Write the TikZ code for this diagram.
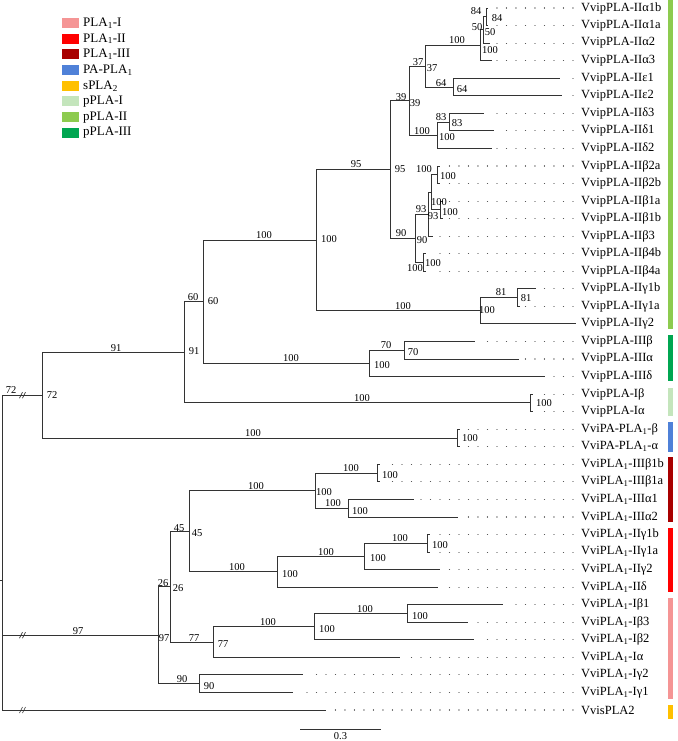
\documentclass[tikz,border=0pt]{standalone}
\usepackage{fontspec}
\setmainfont{Liberation Serif}
\definecolor{cPLAI}{HTML}{F59595}
\definecolor{cPLAII}{HTML}{FF0000}
\definecolor{cPLAIII}{HTML}{A80000}
\definecolor{cPA}{HTML}{4F81D8}
\definecolor{csPLA}{HTML}{FFC000}
\definecolor{cpI}{HTML}{C4E5BC}
\definecolor{cpII}{HTML}{8DCB4F}
\definecolor{cpIII}{HTML}{00A651}
\tikzset{
  br/.style={draw=black!80, line width=0.9pt},
  dotl/.style={draw=black!65, line width=1.1pt, line cap=round, dash pattern=on 0.1pt off 9.4pt},
  lf/.style={anchor=west, inner sep=0pt, font=\fontsize{12.5}{14}\selectfont},
  bs/.style={inner sep=0pt, font=\fontsize{10.5}{12}\selectfont},
  lg/.style={anchor=west, inner sep=0pt, font=\fontsize{13}{15}\selectfont},
  slash/.style={draw=black!80, line width=0.6pt}
}
\newcommand\leafA[4]{\coordinate (t#1) at (#2,#3); \node[lf] (L#1) at (581,#3) {#4};}
\newcommand\leafB[4]{\leafA{#1}{#2}{#3}{#4}\coordinate (e#1) at (573,#3); \coordinate (s#1) at (#2+5,#3); \draw[dotl] (e#1) -- (s#1);}
\newcommand\sub[1]{\textsubscript{#1}}
\begin{document}
\begin{tikzpicture}[x=1pt,y=-1pt]
\useasboundingbox (0,0) rectangle (677,741);
% leaves
\leafB{1}{488}{8}{VvipPLA-IIα1b}
\leafB{2}{488}{25.55}{VvipPLA-IIα1a}
\leafB{3}{490}{43.1}{VvipPLA-IIα2}
\leafB{4}{492}{60.65}{VvipPLA-IIα3}
\leafB{5}{560}{78.2}{VvipPLA-IIε1}
\leafB{6}{562}{95.75}{VvipPLA-IIε2}
\leafB{7}{484}{113.3}{VvipPLA-IIδ3}
\leafB{8}{494}{130.85}{VvipPLA-IIδ1}
\leafB{9}{492}{148.4}{VvipPLA-IIδ2}
\leafB{10}{440}{165.95}{VvipPLA-IIβ2a}
\leafB{11}{440}{183.5}{VvipPLA-IIβ2b}
\leafB{12}{443}{201.05}{VvipPLA-IIβ1a}
\leafB{13}{443}{218.6}{VvipPLA-IIβ1b}
\leafB{14}{433}{236.15}{VvipPLA-IIβ3}
\leafB{15}{426}{253.7}{VvipPLA-IIβ4b}
\leafB{16}{426}{271.25}{VvipPLA-IIβ4a}
\leafB{17}{536}{288.8}{VvipPLA-IIγ1b}
\leafB{18}{520}{306.35}{VvipPLA-IIγ1a}
\leafA{19}{576}{323.9}{VvipPLA-IIγ2}
\leafB{20}{475}{341.45}{VvipPLA-IIIβ}
\leafB{21}{519}{359}{VvipPLA-IIIα}
\leafB{22}{545}{376.55}{VvipPLA-IIIδ}
\leafB{23}{533}{394.1}{VvipPLA-Iβ}
\leafB{24}{533}{411.65}{VvipPLA-Iα}
\leafB{25}{460}{429.2}{VviPA-PLA\sub{1}-β}
\leafB{26}{460}{446.75}{VviPA-PLA\sub{1}-α}
\leafB{27}{380}{464.3}{VviPLA\sub{1}-IIIβ1b}
\leafB{28}{380}{481.85}{VviPLA\sub{1}-IIIβ1a}
\leafB{29}{414}{499.4}{VviPLA\sub{1}-IIIα1}
\leafB{30}{458}{516.95}{VviPLA\sub{1}-IIIα2}
\leafB{31}{430}{534.5}{VviPLA\sub{1}-IIγ1b}
\leafB{32}{430}{552.05}{VviPLA\sub{1}-IIγ1a}
\leafB{33}{440}{569.6}{VviPLA\sub{1}-IIγ2}
\leafB{34}{438}{587.15}{VviPLA\sub{1}-IIδ}
\leafB{35}{503}{604.7}{VviPLA\sub{1}-Iβ1}
\leafB{36}{468}{622.25}{VviPLA\sub{1}-Iβ3}
\leafB{37}{474}{639.8}{VviPLA\sub{1}-Iβ2}
\leafB{38}{400}{657.35}{VviPLA\sub{1}-Iα}
\leafB{39}{303}{674.9}{VviPLA\sub{1}-Iγ2}
\leafB{40}{293}{692.45}{VviPLA\sub{1}-Iγ1}
\leafB{41}{326}{710}{VvisPLA2}
% internal nodes
\coordinate (n84) at (486,16.78);
\coordinate (n50) at (483,29.94);
\coordinate (nA) at (480,45.29);
\coordinate (nE) at (453,86.98);
\coordinate (n37) at (425,66.13);
\coordinate (n83) at (449,122.08);
\coordinate (nD) at (437,135.24);
\coordinate (n39) at (409,100.69);
\coordinate (nB2) at (437,174.73);
\coordinate (nB1) at (440,209.83);
\coordinate (nX) at (431,192.28);
\coordinate (n93) at (428,214.21);
\coordinate (nB4) at (423,262.48);
\coordinate (n90) at (415,238.34);
\coordinate (n95) at (390,169.52);
\coordinate (n81) at (517,297.58);
\coordinate (nG) at (480,310.74);
\coordinate (nBig) at (316,240.13);
\coordinate (n70) at (404,350.23);
\coordinate (nIII) at (369,363.39);
\coordinate (n60) at (203,301.76);
\coordinate (nI) at (530,402.88);
\coordinate (n91) at (184,352.32);
\coordinate (nPA) at (457,437.98);
\coordinate (n72) at (42,395.15);
\coordinate (mB1) at (377,473.08);
\coordinate (mA1) at (348,508.18);
\coordinate (nP3) at (315,490.63);
\coordinate (mG1) at (427,543.28);
\coordinate (mG12) at (364,556.44);
\coordinate (nP2) at (277,571.8);
\coordinate (n45) at (189,531.2);
\coordinate (mIb13) at (407,613.48);
\coordinate (mIb) at (314,626.64);
\coordinate (n77) at (213,642);
\coordinate (n26) at (170,586.6);
\coordinate (n90b) at (199,683.68);
\coordinate (n97) at (158,635.14);
\coordinate (root) at (2,580.1);
\coordinate (r0) at (0,580.1);
% branches
\foreach \p/\c in {n84/t1,n84/t2,n50/n84,n50/t3,nA/n50,nA/t4,nE/t5,nE/t6,n37/nA,n37/nE,
  n83/t7,n83/t8,nD/n83,nD/t9,n39/n37,n39/nD,nB2/t10,nB2/t11,nB1/t12,nB1/t13,nX/nB2,nX/nB1,
  n93/nX,n93/t14,nB4/t15,nB4/t16,n90/n93,n90/nB4,n95/n39,n95/n90,n81/t17,n81/t18,nG/n81,nG/t19,
  nBig/n95,nBig/nG,n70/t20,n70/t21,nIII/n70,nIII/t22,n60/nBig,n60/nIII,nI/t23,nI/t24,
  n91/n60,n91/nI,nPA/t25,nPA/t26,n72/n91,n72/nPA,root/n72,root/n97,root/t41,
  mB1/t27,mB1/t28,mA1/t29,mA1/t30,nP3/mB1,nP3/mA1,mG1/t31,mG1/t32,mG12/mG1,mG12/t33,
  nP2/mG12,nP2/t34,n45/nP3,n45/nP2,mIb13/t35,mIb13/t36,mIb/mIb13,mIb/t37,n77/mIb,n77/t38,
  n26/n45,n26/n77,n90b/t39,n90b/t40,n97/n26,n97/n90b}
  \draw[br] (\p) |- (\c);
\draw[br] (r0) -- (root);
% break marks
\foreach \yy [count=\i] in {395.15,635.14,710} {
  \draw[slash] (19.5,\yy+3) -- (22.5,\yy-3);
  \draw[slash] (22.5,\yy+3) -- (25.5,\yy-3);
}
% bootstrap values
\foreach \x/\y/\t [count=\i] in {476/11/84,497/18/84,477/27/50,490/32/50,490/50/100,457/40/100,
  418/62/37,432/68/37,441/83/64,462/89/64,401/97/39,415/103/39,441/117/83,457/123/83,
  422/131/100,447/137/100,356/164/95,400/169/95,424/169/100,448/176/100,439/202/100,450/212/100,
  421/209/93,433/216/93,401/233/90,422/240/90,264/235/100,329/239/100,415/268/100,433/263/100,
  501/292/81,526/298/81,403/306/100,487/310/100,193/297/60,213/301/60,386/345/70,413/352/70,
  116/348/91,194/351/91,291/358/100,382/365/100,11/390/72,52/395/72,362/398/100,544/403/100,
  253/433/100,470/438/100,351/468/100,390/475/100,256/486/100,324/492/100,333/503/100,360/511/100,
  179/528/45,197/533/45,400/538/100,440/545/100,326/552/100,378/558/100,237/567/100,290/574/100,
  163/583/26,178/588/26,365/609/100,420/616/100,268/622/100,327/629/100,78/631/97,164/638/97,
  194/638/77,223/644/77,182/679/90,209/686/90}
  \node[bs] (bs\i) at (\x,\y) {\t};
% scale bar
\coordinate (sb1) at (300,729);
\coordinate (sb2) at (381,729);
\draw[br] (sb1) -- (sb2);
\node[bs] (sbl) at (340.5,736.5) {0.3};
% colour bars
\fill[cpII] (667.5,0) rectangle (672.5,329);
\fill[cpIII] (667.5,335) rectangle (672.5,381);
\fill[cpI] (667.5,388) rectangle (672.5,416);
\fill[cPA] (667.5,422) rectangle (672.5,452);
\fill[cPLAIII] (667.5,457) rectangle (672.5,522);
\fill[cPLAII] (667.5,528) rectangle (672.5,592);
\fill[cPLAI] (667.5,598) rectangle (672.5,699);
\fill[csPLA] (667.5,705) rectangle (672.5,719);
% legend
\foreach \c/\t [count=\i] in {cPLAI/{PLA\sub{1}-I},cPLAII/{PLA\sub{1}-II},cPLAIII/{PLA\sub{1}-III},
  cPA/{PA-PLA\sub{1}},csPLA/{sPLA\sub{2}},cpI/{pPLA-I},cpII/{pPLA-II},cpIII/{pPLA-III}} {
  \fill[\c] (62,{23+15.7*(\i-1)-5}) rectangle (79,{23+15.7*(\i-1)+5});
  \node[lg] (lg\i) at (83,{23+15.7*(\i-1)}) {\t};
}
\end{tikzpicture}
\end{document}
